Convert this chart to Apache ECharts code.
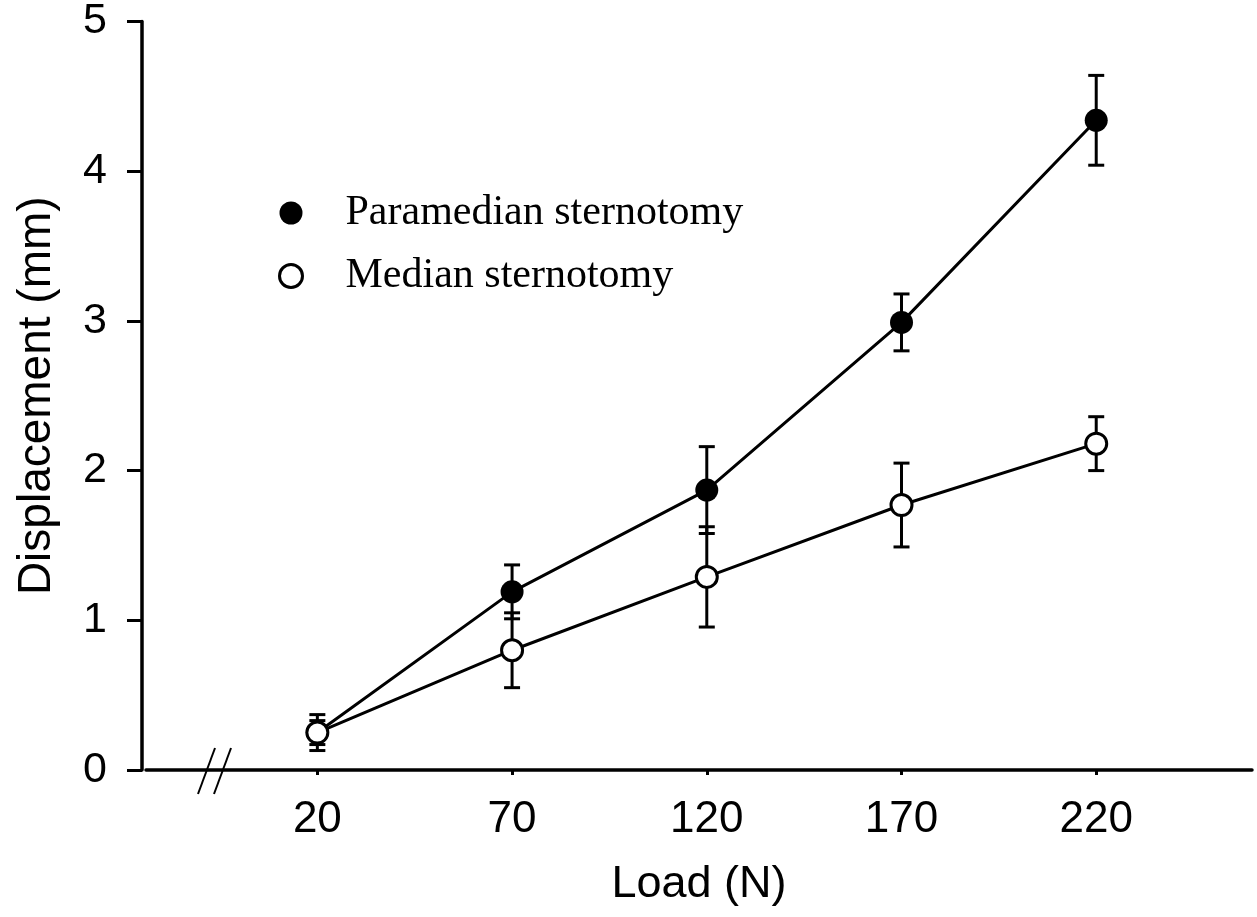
<!DOCTYPE html>
<html>
<head>
<meta charset="utf-8">
<script src="https://cdn.jsdelivr.net/npm/echarts@6/dist/echarts.min.js"></script>
<style>
html,body{margin:0;padding:0;background:#fff;}
#chart{width:1257px;height:917px;}
</style>
</head>
<body>
<div id="chart"></div>
<script>
var loads = [20, 70, 120, 170, 220];
var xTicks = [20, 70, 120, 170, 220];
var yTicks = [0, 1, 2, 3, 4, 5];
var paramedian = [0.25, 1.19, 1.87, 2.99, 4.34];
var paramedianErr = [0.08, 0.18, 0.29, 0.19, 0.30];
var median = [0.25, 0.80, 1.29, 1.77, 2.18];
var medianErr = [0.12, 0.25, 0.335, 0.28, 0.18];
var seriesNames = ['Paramedian sternotomy', 'Median sternotomy'];

function pairs(xs, ys) { return xs.map(function (x, i) { return [x, ys[i]]; }); }
function errData(xs, ys, es) { return xs.map(function (x, i) { return [x, ys[i] - es[i], ys[i] + es[i]]; }); }

function renderErr(params, api) {
  var x = api.value(0);
  var lo = api.coord([x, api.value(1)]);
  var hi = api.coord([x, api.value(2)]);
  var hw = 8;
  var st = { stroke: '#000', lineWidth: 3 };
  return {
    type: 'group',
    children: [
      { type: 'line', shape: { x1: lo[0], y1: lo[1], x2: hi[0], y2: hi[1] }, style: st },
      { type: 'line', shape: { x1: lo[0] - hw, y1: lo[1], x2: lo[0] + hw, y2: lo[1] }, style: st },
      { type: 'line', shape: { x1: hi[0] - hw, y1: hi[1], x2: hi[0] + hw, y2: hi[1] }, style: st }
    ]
  };
}

var chart = echarts.init(document.getElementById('chart'), null, { renderer: 'canvas' });
chart.setOption({
  animation: false,
  backgroundColor: '#fff',
  grid: { left: 146, right: 5, top: 21, bottom: 147, containLabel: false },
  legend: {
    orient: 'vertical',
    left: 273,
    top: 187,
    itemWidth: 23,
    itemHeight: 23,
    itemGap: 21,
    icon: 'circle',
    data: [
      { name: seriesNames[0], itemStyle: { color: '#000', borderWidth: 0 } },
      { name: seriesNames[1], itemStyle: { color: '#fff', borderColor: '#000', borderWidth: 3 } }
    ],
    textStyle: { fontFamily: 'Liberation Serif', fontSize: 42, color: '#000', padding: [0, 0, 0, 38] }
  },
  xAxis: {
    type: 'value',
    min: -24,
    max: 260,
    name: 'Load (N)',
    nameLocation: 'middle',
    nameGap: 92,
    nameTextStyle: { fontFamily: 'Liberation Sans', fontSize: 45, color: '#000' },
    splitLine: { show: false },
    axisLine: { show: true, onZero: false, lineStyle: { color: '#000', width: 3.5 } },
    axisTick: { show: true, customValues: xTicks, length: 5, lineStyle: { color: '#000', width: 3 } },
    axisLabel: { customValues: xTicks, margin: 28, fontFamily: 'Liberation Sans', fontSize: 44, color: '#000' }
  },
  yAxis: {
    type: 'value',
    min: 0,
    max: 5,
    interval: 1,
    offset: 4,
    name: 'Displacement (mm)',
    nameLocation: 'middle',
    nameGap: 82,
    nameTextStyle: { fontFamily: 'Liberation Sans', fontSize: 46, color: '#000' },
    splitLine: { show: false },
    axisLine: { show: true, onZero: false, lineStyle: { color: '#000', width: 3.5 } },
    axisTick: { show: true, length: 15, lineStyle: { color: '#000', width: 3 } },
    axisLabel: { margin: 35, fontFamily: 'Liberation Sans', fontSize: 43, color: '#000' }
  },
  graphic: [
    { type: 'line', shape: { x1: 198, y1: 794, x2: 215, y2: 748 }, style: { stroke: '#000', lineWidth: 2 }, z: 100 },
    { type: 'line', shape: { x1: 214, y1: 794, x2: 231, y2: 748 }, style: { stroke: '#000', lineWidth: 2 }, z: 100 }
  ],
  series: [
    { type: 'custom', name: 'errP', renderItem: renderErr, data: errData(loads, paramedian, paramedianErr), z: 1, silent: true },
    { type: 'custom', name: 'errM', renderItem: renderErr, data: errData(loads, median, medianErr), z: 1, silent: true },
    {
      type: 'line', name: seriesNames[0], data: pairs(loads, paramedian), z: 3,
      symbol: 'circle', symbolSize: 23,
      lineStyle: { color: '#000', width: 3 },
      itemStyle: { color: '#000', borderWidth: 0 }
    },
    {
      type: 'line', name: seriesNames[1], data: pairs(loads, median), z: 4,
      symbol: 'circle', symbolSize: 21,
      lineStyle: { color: '#000', width: 3 },
      itemStyle: { color: '#fff', borderColor: '#000', borderWidth: 3 }
    }
  ]
});
</script>
</body>
</html>
